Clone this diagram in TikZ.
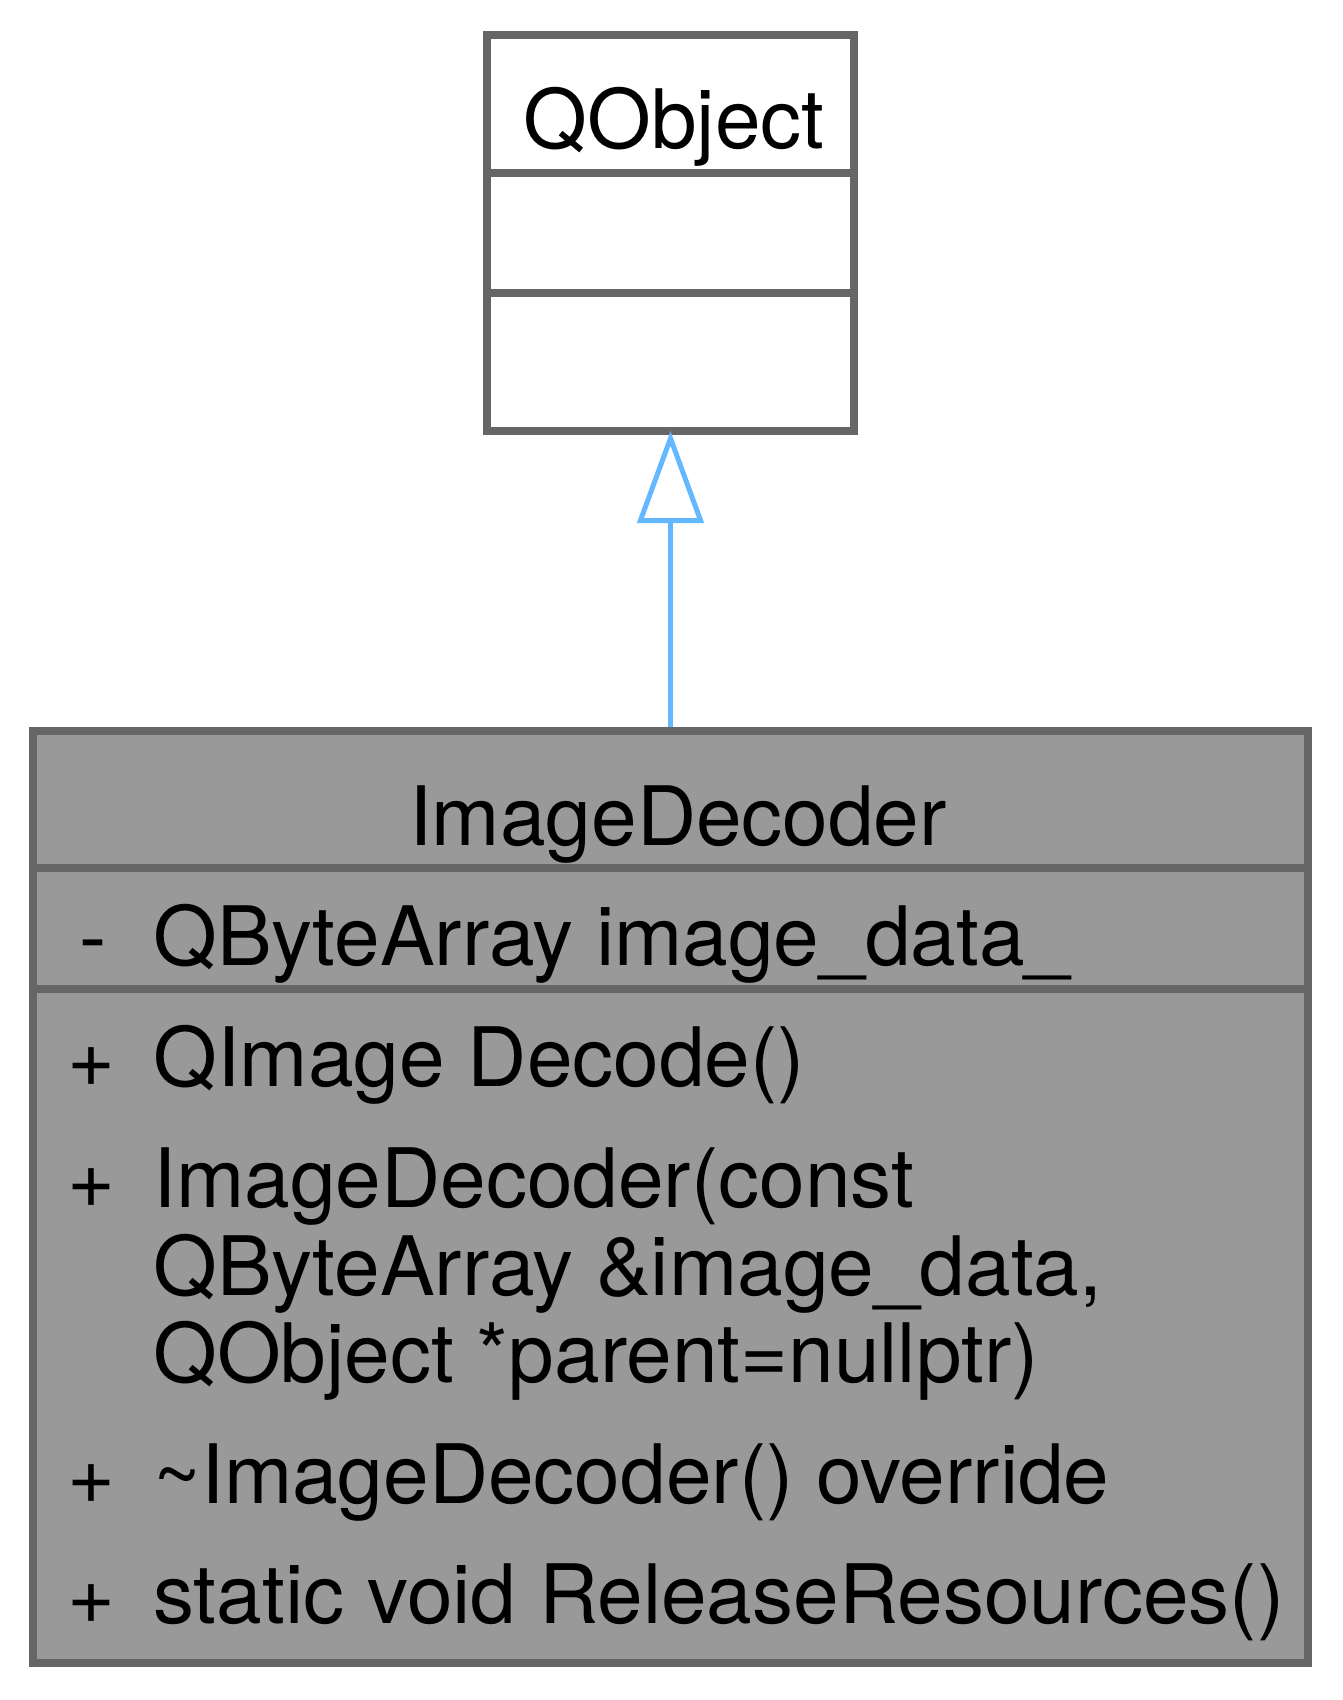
\documentclass[tikz,border=0pt]{standalone}
\usepackage{fontspec}
\setmainfont{TeX Gyre Heros}
\usetikzlibrary{arrows.meta}
\definecolor{boxedge}{HTML}{666666}
\definecolor{boxfill}{HTML}{999999}
\definecolor{inherit}{HTML}{63B8FF}
\tikzset{
  classbox/.style={draw=boxedge,line width=4pt,rectangle,inner sep=0pt,outer sep=0pt},
  sepline/.style={draw=boxedge,line width=4pt},
  member/.style={anchor=base west,inner sep=0pt,font=\fontsize{41}{44}\selectfont},
  vis/.style={anchor=base,inner sep=0pt,font=\fontsize{41}{44}\selectfont},
  isa/.style={-{Triangle[open,length=46pt,width=33pt]},draw=inherit,line width=2.5pt}
}
\begin{document}
\begin{tikzpicture}[x=0.5pt,y=-0.5pt,line join=miter]
\useasboundingbox (0,0) rectangle (1342,1700);
% base class
\node[classbox,fill=white,minimum width=183.5pt,minimum height=197.75pt] (qobject) at (670.5,233.25) {};
\draw[sepline] (487,173) -- (854,173);
\draw[sepline] (487,293) -- (854,293);
\node[vis] (qobject-name) at (674,149) {QObject};
% derived class
\node[classbox,fill=boxfill,minimum width=637.5pt,minimum height=466pt] (decoder) at (670.5,1197) {};
\draw[sepline] (33,868) -- (1308,868);
\draw[sepline] (33,989) -- (1308,989);
\node[vis] (decoder-name) at (678,845) {ImageDecoder};
% attributes
\node[vis] (attr-vis) at (93,965) {-};
\node[member] (attr) at (153,965) {QByteArray image\_data\_};
% methods
\foreach \vy in {1086,1207,1503,1623}
  \node[vis] (op-vis-\vy) at (91,\vy) {+};
\foreach \vy/\txt [count=\i] in {1086/{QImage Decode()},
    1207/{ImageDecoder(const},
    1295/{QByteArray \&image\_data,},
    1382/{QObject *parent=nullptr)},
    1503/{\textasciitilde ImageDecoder() override},
    1623/{static void ReleaseResources()}}
  \node[member] (op-\i) at (153,\vy) {\txt};
% inheritance
\draw[isa,shorten <=2pt] (decoder.north) -- (qobject.south);
\end{tikzpicture}
\end{document}
